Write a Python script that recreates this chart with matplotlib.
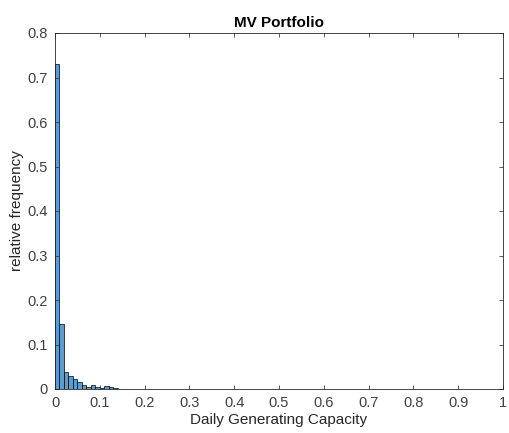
import matplotlib
matplotlib.use("Agg")
import matplotlib.pyplot as plt

# relative frequency of daily generating capacity, bins of width 0.01
bin_left = [0.00, 0.01, 0.02, 0.03, 0.04, 0.05, 0.06, 0.07,
            0.08, 0.09, 0.10, 0.11, 0.12, 0.13]
rel_freq = [0.730, 0.145, 0.038, 0.030, 0.022, 0.015, 0.008, 0.005,
            0.009, 0.005, 0.003, 0.006, 0.005, 0.003]
x_ticks = [0, 0.1, 0.2, 0.3, 0.4, 0.5, 0.6, 0.7, 0.8, 0.9, 1]
x_tick_labels = ["0", "0.1", "0.2", "0.3", "0.4", "0.5", "0.6", "0.7", "0.8", "0.9", "1"]
y_ticks = [0, 0.1, 0.2, 0.3, 0.4, 0.5, 0.6, 0.7, 0.8]
y_tick_labels = ["0", "0.1", "0.2", "0.3", "0.4", "0.5", "0.6", "0.7", "0.8"]

plt.rcParams["font.family"] = ["Liberation Sans", "DejaVu Sans"]

fig = plt.figure(figsize=(5.1, 4.33), dpi=100)
ax = fig.add_axes([55 / 510, 44 / 433, 448 / 510, 356 / 433])

ax.bar(bin_left, rel_freq, width=0.01, align="edge",
       color=(0.36, 0.61, 0.82), edgecolor="black", linewidth=0.5)

ax.set_xlim(0, 1)
ax.set_ylim(0, 0.8)
ax.set_xticks(x_ticks, x_tick_labels)
ax.set_yticks(y_ticks, y_tick_labels)
ax.tick_params(direction="in", length=3, width=0.6, labelsize=10.5, pad=5,
               colors="#404040", top=True, right=True, labeltop=False, labelright=False)
for side in ax.spines.values():
    side.set_linewidth(0.6)
    side.set_color("#262626")

ax.set_xlabel("Daily Generating Capacity", fontsize=11, color="#262626", labelpad=2)
ax.set_ylabel("relative frequency", fontsize=11, color="#262626", labelpad=3)
ax.set_title("MV Portfolio", fontsize=11, fontweight="bold", pad=4)

fig.savefig("out.png", dpi=100)
